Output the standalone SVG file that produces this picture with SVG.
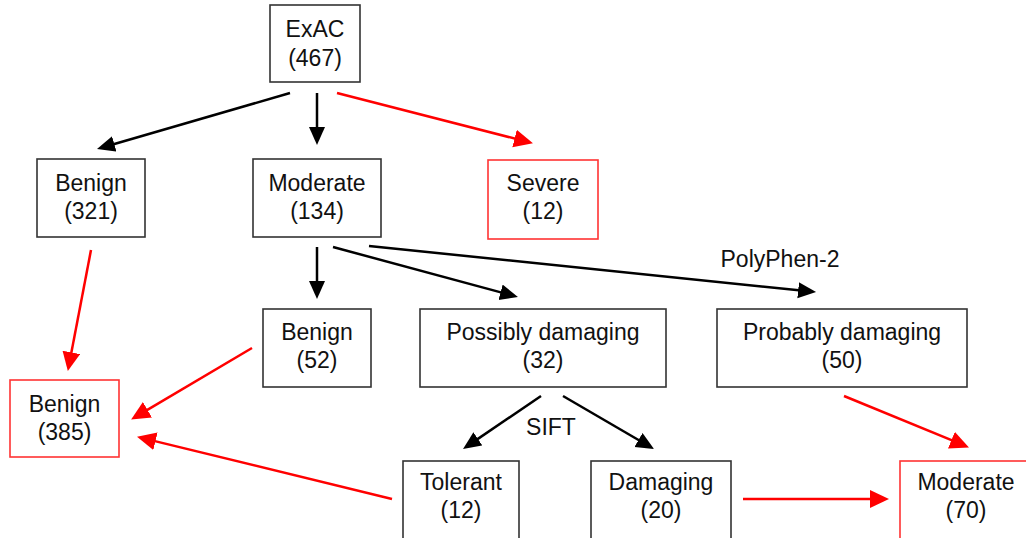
<svg xmlns="http://www.w3.org/2000/svg" width="1026" height="538" viewBox="0 0 1026 538">
<style>
text{font-family:"Liberation Sans",Arial,sans-serif;font-size:23px;fill:#111;text-anchor:middle}
.box{fill:#fff;stroke:#333;stroke-width:1.6}
.rbox{fill:#fff;stroke:#f33;stroke-width:1.6}
.k{stroke:#000;stroke-width:2.5;fill:none}
.r{stroke:#f00;stroke-width:2.5;fill:none}
</style>
<defs>
<marker id="ak" markerUnits="userSpaceOnUse" markerWidth="20" markerHeight="18" refX="8" refY="8" orient="auto"><path d="M0,0 L18,8 L0,16 z" fill="#000"/></marker>
<marker id="ar" markerUnits="userSpaceOnUse" markerWidth="22" markerHeight="20" refX="8" refY="9" orient="auto"><path d="M0,0 L19,9 L0,18 z" fill="#f00"/></marker>
</defs>
<rect width="1026" height="538" fill="#fff"/>
<g id="connectors">
<line class="k" x1="290" y1="93" x2="106.6" y2="146.2" marker-end="url(#ak)"/>
<line class="k" x1="317" y1="93" x2="317" y2="135" marker-end="url(#ak)"/>
<line class="r" x1="337" y1="93" x2="522.3" y2="140.5" marker-end="url(#ar)"/>
<line class="k" x1="317" y1="247" x2="317" y2="289" marker-end="url(#ak)"/>
<line class="k" x1="333" y1="247" x2="508.3" y2="294.4" marker-end="url(#ak)"/>
<line class="k" x1="369" y1="246" x2="806.1" y2="291" marker-end="url(#ak)"/>
<line class="k" x1="541" y1="396" x2="471.3" y2="443.4" marker-end="url(#ak)"/>
<line class="k" x1="563" y1="396" x2="645.4" y2="444" marker-end="url(#ak)"/>
<line class="r" x1="91" y1="250" x2="69.9" y2="360.2" marker-end="url(#ar)"/>
<line class="r" x1="252" y1="348" x2="140.6" y2="413.9" marker-end="url(#ar)"/>
<line class="r" x1="392" y1="499" x2="147.7" y2="439.4" marker-end="url(#ar)"/>
<line class="r" x1="844" y1="396" x2="958.8" y2="443.2" marker-end="url(#ar)"/>
<line class="r" x1="743" y1="499" x2="878" y2="499" marker-end="url(#ar)"/>
<text x="780" y="267">PolyPhen-2</text>
<text x="551" y="435">SIFT</text>
</g>
<g id="n-exac"><rect class="box" x="270" y="5" width="90" height="77"/><text x="315" y="37">ExAC</text><text x="315" y="66">(467)</text></g>
<g id="n-benign321"><rect class="box" x="37" y="159" width="108" height="78"/><text x="91" y="191">Benign</text><text x="91" y="219">(321)</text></g>
<g id="n-moderate134"><rect class="box" x="253" y="159" width="128" height="78"/><text x="317" y="191">Moderate</text><text x="317" y="219">(134)</text></g>
<g id="n-severe"><rect class="rbox" x="488" y="160" width="110" height="79"/><text x="543" y="191">Severe</text><text x="543" y="219">(12)</text></g>
<g id="n-benign52"><rect class="box" x="263" y="309" width="108" height="78"/><text x="317" y="340">Benign</text><text x="317" y="368">(52)</text></g>
<g id="n-possibly"><rect class="box" x="420" y="309" width="246" height="78"/><text x="543" y="340">Possibly damaging</text><text x="543" y="368">(32)</text></g>
<g id="n-probably"><rect class="box" x="717" y="309" width="250" height="78"/><text x="842" y="340">Probably damaging</text><text x="842" y="368">(50)</text></g>
<g id="n-benign385"><rect class="rbox" x="10" y="380" width="109" height="77"/><text x="64.5" y="412">Benign</text><text x="64.5" y="440">(385)</text></g>
<g id="n-tolerant"><rect class="box" x="403" y="461" width="116" height="80"/><text x="461" y="490">Tolerant</text><text x="461" y="518">(12)</text></g>
<g id="n-damaging"><rect class="box" x="591" y="461" width="140" height="80"/><text x="661" y="490">Damaging</text><text x="661" y="518">(20)</text></g>
<g id="n-moderate70"><rect class="rbox" x="900" y="461" width="132" height="80"/><text x="966" y="490">Moderate</text><text x="966" y="518">(70)</text></g>
</svg>
